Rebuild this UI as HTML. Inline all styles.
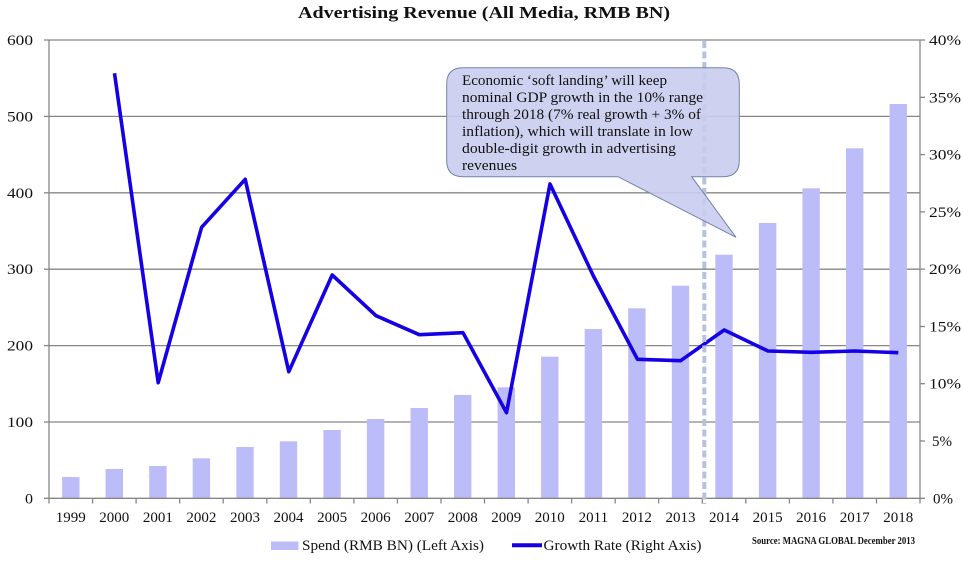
<!DOCTYPE html>
<html>
<head>
<meta charset="utf-8">
<style>
  html, body { margin: 0; padding: 0; background: #fff; }
  svg { display: block; }
  text { font-family: "Liberation Serif", "DejaVu Serif", serif; fill: #111; }
</style>
</head>
<body>
<svg width="963" height="561" viewBox="0 0 963 561" xmlns="http://www.w3.org/2000/svg">
  <rect x="0" y="0" width="963" height="561" fill="#fff"/>

  <!-- Title -->
  <text x="298" y="18" font-size="17" font-weight="bold" textLength="372" lengthAdjust="spacingAndGlyphs">Advertising Revenue (All Media, RMB BN)</text>

  <!-- Gridlines -->
  <g stroke="#878787" stroke-width="1.3">
    <line x1="49" y1="40" x2="920" y2="40"/>
    <line x1="49" y1="116.4" x2="920" y2="116.4"/>
    <line x1="49" y1="192.8" x2="920" y2="192.8"/>
    <line x1="49" y1="269.2" x2="920" y2="269.2"/>
    <line x1="49" y1="345.6" x2="920" y2="345.6"/>
    <line x1="49" y1="422" x2="920" y2="422"/>
  </g>

  <!-- Bars -->
  <g fill="#bcbcf8">
    <rect x="62.1" y="477" width="17.4" height="21.3"/>
    <rect x="105.6" y="469" width="17.4" height="29.3"/>
    <rect x="149.2" y="466" width="17.4" height="32.3"/>
    <rect x="192.7" y="458.3" width="17.4" height="40"/>
    <rect x="236.3" y="447" width="17.4" height="51.3"/>
    <rect x="279.8" y="441.3" width="17.4" height="57"/>
    <rect x="323.4" y="430" width="17.4" height="68.3"/>
    <rect x="366.9" y="419" width="17.4" height="79.3"/>
    <rect x="410.5" y="408" width="17.4" height="90.3"/>
    <rect x="454" y="395" width="17.4" height="103.3"/>
    <rect x="497.6" y="387.3" width="17.4" height="111"/>
    <rect x="541.1" y="356.7" width="17.4" height="141.6"/>
    <rect x="584.7" y="329" width="17.4" height="169.3"/>
    <rect x="628.2" y="308.3" width="17.4" height="190"/>
    <rect x="671.8" y="285.7" width="17.4" height="212.6"/>
    <rect x="715.3" y="254.7" width="17.4" height="243.6"/>
    <rect x="758.9" y="223" width="17.4" height="275.3"/>
    <rect x="802.4" y="188.3" width="17.4" height="310"/>
    <rect x="846" y="148.3" width="17.4" height="350"/>
    <rect x="889.5" y="104" width="17.4" height="394.3"/>
  </g>

  <!-- Axes -->
  <g stroke="#878787" stroke-width="1.3" fill="none">
    <line x1="49" y1="40" x2="49" y2="498.3"/>
    <line x1="920" y1="40" x2="920" y2="498.3"/>
    <line x1="44" y1="498.3" x2="925" y2="498.3"/>
    <line x1="44" y1="40" x2="49" y2="40"/>
    <line x1="44" y1="116.4" x2="49" y2="116.4"/>
    <line x1="44" y1="192.8" x2="49" y2="192.8"/>
    <line x1="44" y1="269.2" x2="49" y2="269.2"/>
    <line x1="44" y1="345.6" x2="49" y2="345.6"/>
    <line x1="44" y1="422" x2="49" y2="422"/>
    <line x1="920" y1="40" x2="925" y2="40"/>
    <line x1="920" y1="97.3" x2="925" y2="97.3"/>
    <line x1="920" y1="154.6" x2="925" y2="154.6"/>
    <line x1="920" y1="211.9" x2="925" y2="211.9"/>
    <line x1="920" y1="269.2" x2="925" y2="269.2"/>
    <line x1="920" y1="326.5" x2="925" y2="326.5"/>
    <line x1="920" y1="383.7" x2="925" y2="383.7"/>
    <line x1="920" y1="441" x2="925" y2="441"/>
    <line x1="49" y1="498.3" x2="49" y2="503.5"/>
    <line x1="92.6" y1="498.3" x2="92.6" y2="503.5"/>
    <line x1="136.1" y1="498.3" x2="136.1" y2="503.5"/>
    <line x1="179.7" y1="498.3" x2="179.7" y2="503.5"/>
    <line x1="223.2" y1="498.3" x2="223.2" y2="503.5"/>
    <line x1="266.8" y1="498.3" x2="266.8" y2="503.5"/>
    <line x1="310.3" y1="498.3" x2="310.3" y2="503.5"/>
    <line x1="353.9" y1="498.3" x2="353.9" y2="503.5"/>
    <line x1="397.4" y1="498.3" x2="397.4" y2="503.5"/>
    <line x1="441" y1="498.3" x2="441" y2="503.5"/>
    <line x1="484.5" y1="498.3" x2="484.5" y2="503.5"/>
    <line x1="528.1" y1="498.3" x2="528.1" y2="503.5"/>
    <line x1="571.6" y1="498.3" x2="571.6" y2="503.5"/>
    <line x1="615.2" y1="498.3" x2="615.2" y2="503.5"/>
    <line x1="658.7" y1="498.3" x2="658.7" y2="503.5"/>
    <line x1="702.3" y1="498.3" x2="702.3" y2="503.5"/>
    <line x1="745.8" y1="498.3" x2="745.8" y2="503.5"/>
    <line x1="789.4" y1="498.3" x2="789.4" y2="503.5"/>
    <line x1="832.9" y1="498.3" x2="832.9" y2="503.5"/>
    <line x1="876.5" y1="498.3" x2="876.5" y2="503.5"/>
    <line x1="920" y1="498.3" x2="920" y2="503.5"/>
  </g>

  <!-- Left axis labels -->
  <g font-size="15">
    <text x="7" y="45" textLength="26" lengthAdjust="spacingAndGlyphs">600</text>
    <text x="7" y="121.4" textLength="26" lengthAdjust="spacingAndGlyphs">500</text>
    <text x="7" y="197.8" textLength="26" lengthAdjust="spacingAndGlyphs">400</text>
    <text x="7" y="274.2" textLength="26" lengthAdjust="spacingAndGlyphs">300</text>
    <text x="7" y="350.6" textLength="26" lengthAdjust="spacingAndGlyphs">200</text>
    <text x="7" y="427" textLength="26" lengthAdjust="spacingAndGlyphs">100</text>
    <text x="25" y="503.3" textLength="8" lengthAdjust="spacingAndGlyphs">0</text>
  </g>

  <!-- Right axis labels -->
  <g font-size="15">
    <text x="929" y="45" textLength="32" lengthAdjust="spacingAndGlyphs">40%</text>
    <text x="929" y="102.3" textLength="32" lengthAdjust="spacingAndGlyphs">35%</text>
    <text x="929" y="159.6" textLength="32" lengthAdjust="spacingAndGlyphs">30%</text>
    <text x="929" y="216.9" textLength="32" lengthAdjust="spacingAndGlyphs">25%</text>
    <text x="929" y="274.2" textLength="32" lengthAdjust="spacingAndGlyphs">20%</text>
    <text x="929" y="331.5" textLength="32" lengthAdjust="spacingAndGlyphs">15%</text>
    <text x="929" y="388.7" textLength="32" lengthAdjust="spacingAndGlyphs">10%</text>
    <text x="932" y="446" textLength="20" lengthAdjust="spacingAndGlyphs">5%</text>
    <text x="933" y="503.3" textLength="20" lengthAdjust="spacingAndGlyphs">0%</text>
  </g>

  <!-- X labels -->
  <g font-size="15" text-anchor="middle">
    <text x="70.8" y="522">1999</text>
    <text x="114.3" y="522">2000</text>
    <text x="157.9" y="522">2001</text>
    <text x="201.4" y="522">2002</text>
    <text x="245" y="522">2003</text>
    <text x="288.5" y="522">2004</text>
    <text x="332.1" y="522">2005</text>
    <text x="375.6" y="522">2006</text>
    <text x="419.2" y="522">2007</text>
    <text x="462.7" y="522">2008</text>
    <text x="506.3" y="522">2009</text>
    <text x="549.8" y="522">2010</text>
    <text x="593.4" y="522">2011</text>
    <text x="636.9" y="522">2012</text>
    <text x="680.5" y="522">2013</text>
    <text x="724" y="522">2014</text>
    <text x="767.6" y="522">2015</text>
    <text x="811.1" y="522">2016</text>
    <text x="854.7" y="522">2017</text>
    <text x="898.2" y="522">2018</text>
  </g>

  <!-- Growth line -->
  <polyline fill="none" stroke="#1500e6" stroke-width="3.6" stroke-linejoin="round" stroke-linecap="butt"
    points="114.5,73.3 158.2,382.7 201.6,227.3 245.2,179.3 288.8,371.7 332.2,275 376,315.7 419.3,334.7 463,332.7 506.5,412.7 550,184 593.4,276 637.5,359.3 680.6,360.7 724.2,330 768,351 811.5,352.3 855,351 898.3,352.7"/>

  <!-- Dashed vertical -->
  <line x1="704.3" y1="41" x2="704.3" y2="504" stroke="#b7c3db" stroke-width="4" stroke-dasharray="7,3.5"/>

  <!-- Callout -->
  <path d="M 463,67.7 H 723 Q 739.3,67.7 739.3,84 V 160.5 Q 739.3,176.7 723,176.7 H 691.7 L 736,237.3 L 618,176.7 H 463 Q 446.7,176.7 446.7,160.5 V 84 Q 446.7,67.7 463,67.7 Z"
    fill="#c9cdee" fill-opacity="0.9" stroke="#7283ab" stroke-width="1"/>
  <g font-size="15">
    <text x="462" y="85" textLength="205" lengthAdjust="spacingAndGlyphs">Economic ‘soft landing’ will keep</text>
    <text x="462" y="102" textLength="241" lengthAdjust="spacingAndGlyphs">nominal GDP growth in the 10% range</text>
    <text x="462" y="119" textLength="239" lengthAdjust="spacingAndGlyphs">through 2018 (7% real growth + 3% of</text>
    <text x="462" y="136" textLength="231" lengthAdjust="spacingAndGlyphs">inflation), which will translate in low</text>
    <text x="462" y="153" textLength="214" lengthAdjust="spacingAndGlyphs">double-digit growth in advertising</text>
    <text x="462" y="170" textLength="55" lengthAdjust="spacingAndGlyphs">revenues</text>
  </g>

  <!-- Legend -->
  <rect x="271" y="541.5" width="27.5" height="8.5" fill="#bcbcf8"/>
  <text x="302" y="550" font-size="15" textLength="182" lengthAdjust="spacingAndGlyphs">Spend (RMB BN) (Left Axis)</text>
  <line x1="512" y1="545.3" x2="542" y2="545.3" stroke="#1500e6" stroke-width="4"/>
  <text x="543.5" y="550" font-size="15" textLength="158" lengthAdjust="spacingAndGlyphs">Growth Rate (Right Axis)</text>
  <text x="752" y="544" font-size="10" font-weight="bold" textLength="163" lengthAdjust="spacingAndGlyphs">Source:  MAGNA GLOBAL December 2013</text>
</svg>
</body>
</html>
